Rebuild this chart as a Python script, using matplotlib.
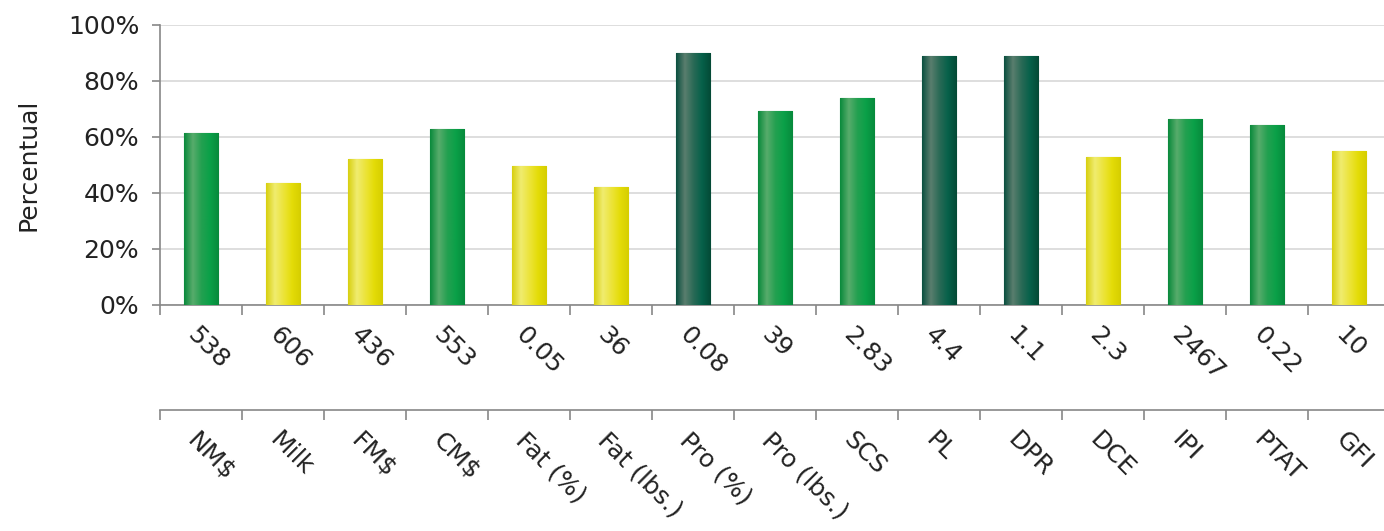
import numpy as np
import matplotlib
matplotlib.use("Agg")
import matplotlib.pyplot as plt
from matplotlib.colors import LinearSegmentedColormap

categories = ["NM$", "Milk", "FM$", "CM$", "Fat (%)", "Fat (lbs.)", "Pro (%)",
              "Pro (lbs.)", "SCS", "PL", "DPR", "DCE", "IPI", "PTAT", "GFI"]
values_text = ["538", "606", "436", "553", "0.05", "36", "0.08", "39", "2.83",
               "4.4", "1.1", "2.3", "2467", "0.22", "10"]
percentual = [61.5, 43.5, 52.3, 62.8, 49.5, 42.0, 90.0, 69.2, 73.8, 89.0, 89.0,
              53.0, 66.3, 64.3, 55.0]
# color group per bar: y = yellow, g = green, d = dark green
groups = ["g", "y", "y", "g", "y", "y", "d", "g", "g", "d", "d", "y", "g", "g", "y"]

gradients = {
    "y": ["#d8d010", "#f0ec70", "#ece43a", "#e4dc08", "#d6ce00"],
    "g": ["#0a8a3c", "#58ac6c", "#23a050", "#0aa048", "#078a3c"],
    "d": ["#0b5040", "#5a7e6e", "#2a6a56", "#06614a", "#044a36"],
}
edges = {"y": "#c8c000", "g": "#0a8a3c", "d": "#0a4a38"}

text_color = "#222222"
fs = 18

fig = plt.figure(figsize=(13.84, 5.31), dpi=100)
fig.patch.set_facecolor("white")

W, H = 1384, 531
x_left, x_right = 160, 1390
ax = fig.add_axes([x_left / W, 1 - 305 / H, (x_right - x_left) / W, (305 - 25) / H])

x = np.arange(len(categories))
bars = ax.bar(x, percentual, width=0.42, color="none", zorder=3)
for b, grp in zip(bars, groups):
    cmap = LinearSegmentedColormap.from_list("bar_" + grp, gradients[grp])
    bx, by = b.get_x(), b.get_y()
    bw, bh = b.get_width(), b.get_height()
    im = ax.imshow(np.linspace(0, 1, 64).reshape(1, -1), cmap=cmap, aspect="auto",
                   extent=(bx, bx + bw, by, by + bh), zorder=3, interpolation="bilinear")
    im.set_clip_path(b)
    b.set_edgecolor(edges[grp])
    b.set_linewidth(0.8)

ax.set_xlim(-0.5, len(categories) - 0.5)
ax.set_ylim(0, 100)
ax.set_yticks([0, 20, 40, 60, 80, 100])
ax.set_yticklabels([f"{v}%" for v in [0, 20, 40, 60, 80, 100]])
ax.grid(axis="y", color="#d8d8d8", linewidth=1.2, zorder=0)
ax.set_axisbelow(True)
for s in ["top", "right"]:
    ax.spines[s].set_visible(False)
for s in ["left", "bottom"]:
    ax.spines[s].set_color("#888888")
    ax.spines[s].set_linewidth(1.2)
ax.tick_params(axis="y", labelsize=fs, colors="#888888", labelcolor=text_color,
               length=6, width=1.2, pad=9)
ax.set_ylabel("Percentual", fontsize=fs, color=text_color, labelpad=20)

# boundary ticks on the main x axis
ax.set_xticks(np.arange(len(categories) + 1) - 0.5, minor=False)
ax.set_xticklabels([])
ax.tick_params(axis="x", length=7, width=1.2, colors="#888888")
for xi, t in zip(x, values_text):
    ax.annotate(t, xy=(xi, 0), xycoords=("data", "axes fraction"),
                xytext=(-1, -13), textcoords="offset points",
                rotation=-45, ha="left", va="top", rotation_mode="anchor",
                fontsize=fs, color=text_color)

# second axis line with category names
ax2 = fig.add_axes([x_left / W, 1 - 410 / H, (x_right - x_left) / W, 0.001])
ax2.set_xlim(ax.get_xlim())
ax2.set_yticks([])
ax2.patch.set_visible(False)
for s in ["top", "right", "left"]:
    ax2.spines[s].set_visible(False)
ax2.spines["bottom"].set_color("#888888")
ax2.spines["bottom"].set_linewidth(1.2)
ax2.set_xticks(np.arange(len(categories) + 1) - 0.5)
ax2.set_xticklabels([])
ax2.tick_params(axis="x", length=7, width=1.2, colors="#888888")
for xi, t in zip(x, categories):
    ax2.annotate(t, xy=(xi, 0), xycoords=("data", "axes fraction"),
                 xytext=(-1, -13), textcoords="offset points",
                 rotation=-45, ha="left", va="top", rotation_mode="anchor",
                 fontsize=fs, color=text_color)

fig.savefig("out.png", dpi=100, facecolor="white")
